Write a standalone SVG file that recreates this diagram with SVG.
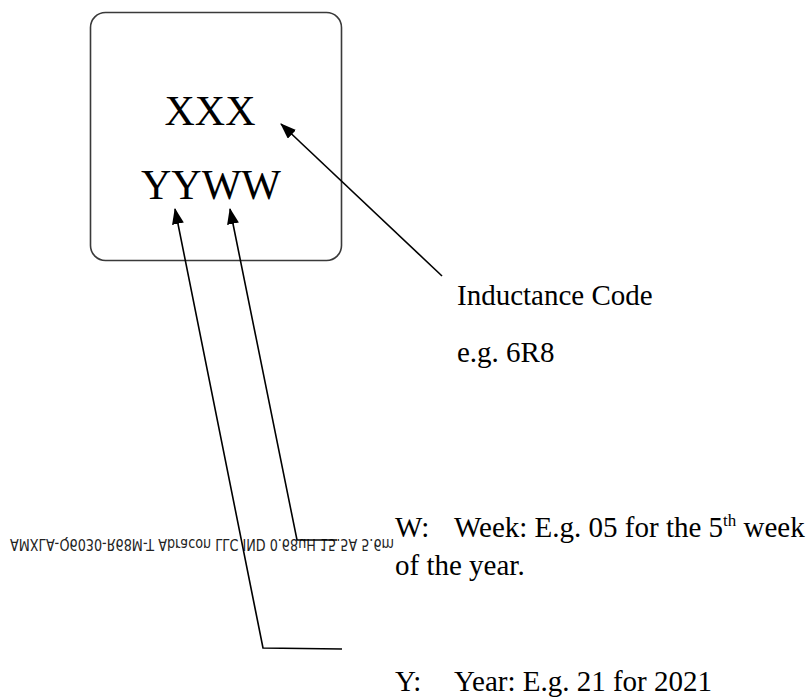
<svg xmlns="http://www.w3.org/2000/svg" width="812" height="698" viewBox="0 0 812 698">
<style>
.serif{font-family:"Liberation Serif","Times New Roman",serif;fill:#000}
.big{font-size:42px}
.lbl{font-size:29px}
.conn{fill:none;stroke:#000;stroke-width:1.6}
.flip{font-family:"DejaVu Sans",sans-serif;font-size:16px;fill:#222}
</style>
<defs>
<marker id="ah" viewBox="0 0 16 12" refX="15" refY="6" markerWidth="16" markerHeight="12" markerUnits="userSpaceOnUse" orient="auto">
<path d="M0,0 L16,6 L0,12 Z" fill="#000"/>
</marker>
</defs>
<rect width="812" height="698" fill="#fff"/>
<g id="part">
<rect x="90.5" y="12.5" width="251" height="248" rx="15" ry="15" fill="#fff" stroke="#3a3a3a" stroke-width="1.6"/>
<text class="serif big" x="210" y="125" text-anchor="middle">XXX</text>
<text class="serif big" x="211" y="199" text-anchor="middle">YYWW</text>
</g>
<g id="flipped-text">
<text class="flip" transform="matrix(1,0,0,-1,10,539)" x="0" y="0" textLength="384" lengthAdjust="spacingAndGlyphs">AMXLA-Q6030-R68M-T Abracon LLC IND 0.68uH 15.5A 5.6m</text>
</g>
<g id="connectors">
<path class="conn" d="M442,276 L281,124" marker-end="url(#ah)"/>
<path class="conn" d="M337,540 L297,540 L230,209" marker-end="url(#ah)"/>
<path class="conn" d="M342,649 L263,648 L175,209" marker-end="url(#ah)"/>
</g>
<g id="inductance-label">
<text class="serif lbl" x="457" y="305">Inductance Code</text>
<text class="serif lbl" x="457" y="362">e.g. 6R8</text>
</g>
<g id="week-label">
<text class="serif lbl" x="395" y="537">W:</text>
<text class="serif lbl" x="454" y="537">Week: E.g. 05 for the 5<tspan font-size="17" dy="-11">th</tspan><tspan dy="11"> week</tspan></text>
<text class="serif lbl" x="395" y="575">of the year.</text>
</g>
<g id="year-label">
<text class="serif lbl" x="395" y="691">Y:</text>
<text class="serif lbl" x="454" y="691">Year: E.g. 21 for 2021</text>
</g>
</svg>
